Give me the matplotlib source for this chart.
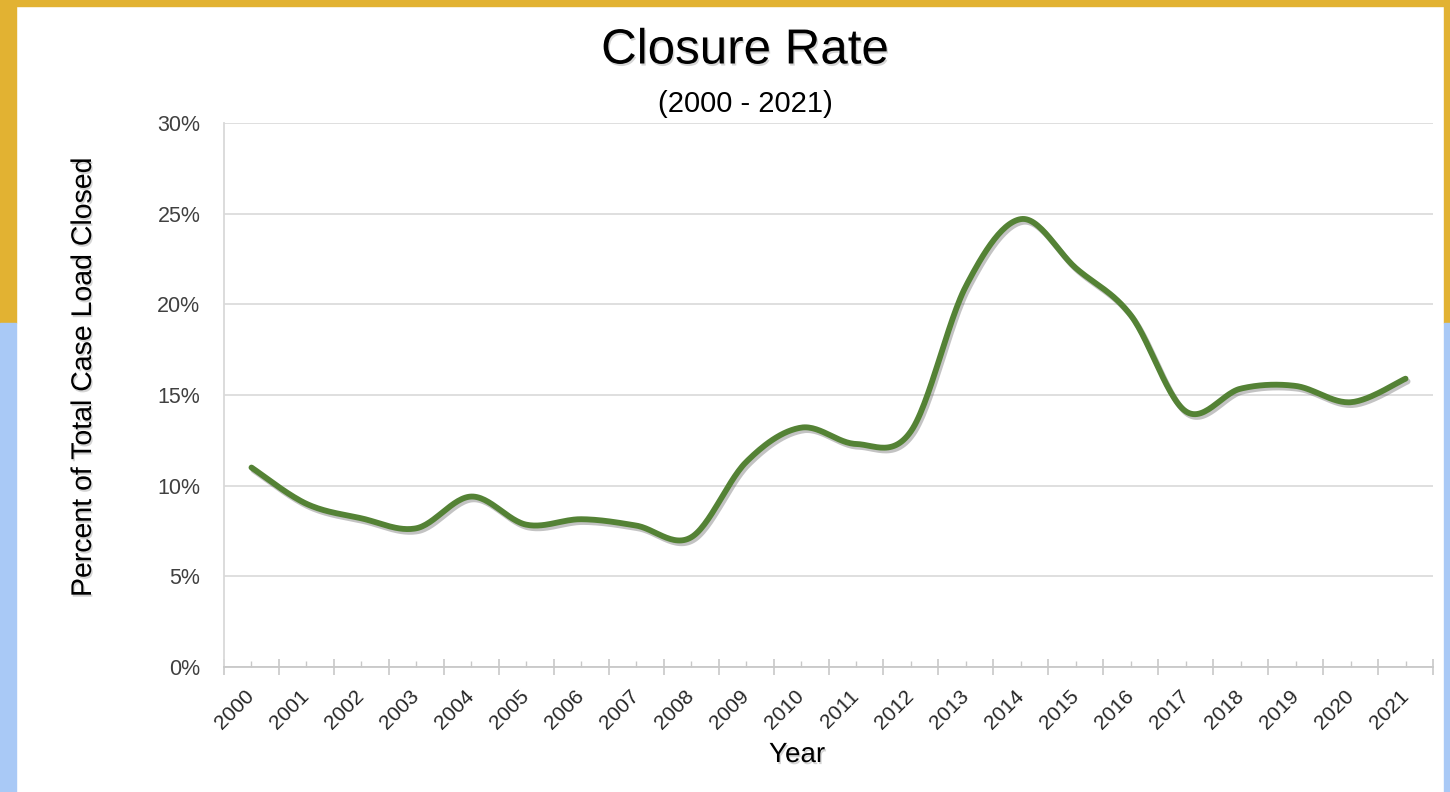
import numpy as np
import matplotlib
matplotlib.use("Agg")
import matplotlib.pyplot as plt
import matplotlib.ticker as tick
import matplotlib.patheffects as pe
from matplotlib.patches import Rectangle

plt.rcParams['font.family'] = ['Liberation Sans', 'DejaVu Sans']

# data
years = [str(y) for y in range(2000, 2022)]
closure_rate = [11.0, 9.0, 8.2, 7.65, 9.4, 7.85, 8.15, 7.8, 7.15, 11.3, 13.2,
                12.3, 13.0, 21.0, 24.7, 22.0, 19.4, 14.1, 15.35, 15.5, 14.6, 15.9]
y_ticks = [0, 5, 10, 15, 20, 25, 30]


def smooth_line(xs, ys, n=30):
    """catmull-rom curve through the points, like Excel's smoothed line"""
    xs = np.asarray(xs, float)
    ys = np.asarray(ys, float)
    px = np.concatenate([[xs[0]], xs, [xs[-1]]])
    py = np.concatenate([[ys[0]], ys, [ys[-1]]])
    out_x, out_y = [], []
    t = np.linspace(0, 1, n)
    for i in range(1, len(px) - 2):
        for p, out in ((px, out_x), (py, out_y)):
            p0, p1, p2, p3 = p[i - 1], p[i], p[i + 1], p[i + 2]
            c1 = p1 + (p2 - p0) / 6
            c2 = p2 - (p3 - p1) / 6
            out.extend((1 - t) ** 3 * p1 + 3 * (1 - t) ** 2 * t * c1
                       + 3 * (1 - t) * t ** 2 * c2 + t ** 3 * p2)
    return np.array(out_x), np.array(out_y)


W, H = 1450, 792
fig = plt.figure(figsize=(W / 100, H / 100), dpi=100)
fig.patch.set_facecolor('white')

# frame: gold top band and side strips, blue lower sides
gold = '#E2B232'
blue = '#A9C9F6'
def px_rect(x0, y0, w, h, color):
    fig.patches.append(Rectangle((x0 / W, 1 - (y0 + h) / H), w / W, h / H,
                                 transform=fig.transFigure, color=color, zorder=0))
px_rect(0, 0, W, 6, gold)
px_rect(0, 0, 16, 323, gold)
px_rect(0, 323, 16, H - 323, blue)
px_rect(1444, 0, 6, 323, gold)
px_rect(1444, 323, 6, H - 323, blue)

ax = fig.add_axes([224 / W, 1 - 667 / H, (1433 - 224) / W, (667 - 123) / H])
ax.set_facecolor('none')

xpos = np.arange(len(years))
sx, sy = smooth_line(xpos, closure_rate)
ax.plot(sx, sy, color='#548235', lw=4.2, solid_capstyle='round', zorder=3,
        path_effects=[pe.SimpleLineShadow(offset=(1.5, -2), shadow_color='#555555', alpha=0.35),
                      pe.Normal()])

ax.set_xlim(-0.5, len(years) - 0.5)
ax.set_ylim(0, 30)

# major ticks at category boundaries, labels on the minor (center) ticks
ax.xaxis.set_major_locator(tick.FixedLocator(np.arange(-0.5, len(years), 1.0)))
ax.xaxis.set_minor_locator(tick.FixedLocator(xpos))
ax.xaxis.set_major_formatter(tick.NullFormatter())
ax.set_xticks(xpos, years, minor=True)
ax.tick_params(axis='x', which='major', direction='inout', length=11, width=1.2, color='#C8C8C8')
ax.tick_params(axis='x', which='minor', direction='in', length=4, width=1.0, color='#C8C8C8',
               labelsize=15, labelcolor='#262626', pad=19)
for lbl in ax.get_xticklabels(minor=True):
    lbl.set_rotation(45)
    lbl.set_ha('right')
    lbl.set_va('center')
    lbl.set_rotation_mode('anchor')

ax.set_yticks(y_ticks, [f"{v}%" for v in y_ticks])
ax.tick_params(axis='y', length=0, pad=17, labelsize=15.5, labelcolor='#404040')
ax.grid(axis='y', color='#DCDCDC', lw=1.3)
ax.set_axisbelow(True)

for s in ['top', 'right']:
    ax.spines[s].set_visible(False)
ax.spines['left'].set_color('#D9D9D9')
ax.spines['left'].set_linewidth(1.3)
ax.spines['bottom'].set_color('#C8C8C8')
ax.spines['bottom'].set_linewidth(1.3)

shadow = [pe.withSimplePatchShadow(offset=(1, -1.5), shadow_rgbFace='#777777', alpha=0.3)]
fig.text(745 / W, 1 - 51 / H, 'Closure Rate', ha='center', va='center', fontsize=35.5,
         color='black', path_effects=shadow)
fig.text(745 / W, 1 - 104 / H, '(2000 - 2021)', ha='center', va='center', fontsize=21,
         color='black')
fig.text(84 / W, 1 - 377 / H, 'Percent of Total Case Load Closed', rotation=90,
         ha='center', va='center', fontsize=20.5, color='black', path_effects=shadow)
fig.text(797 / W, 1 - 755 / H, 'Year', ha='center', va='center', fontsize=20,
         color='black', path_effects=shadow)

fig.savefig('out.png', dpi=100)
